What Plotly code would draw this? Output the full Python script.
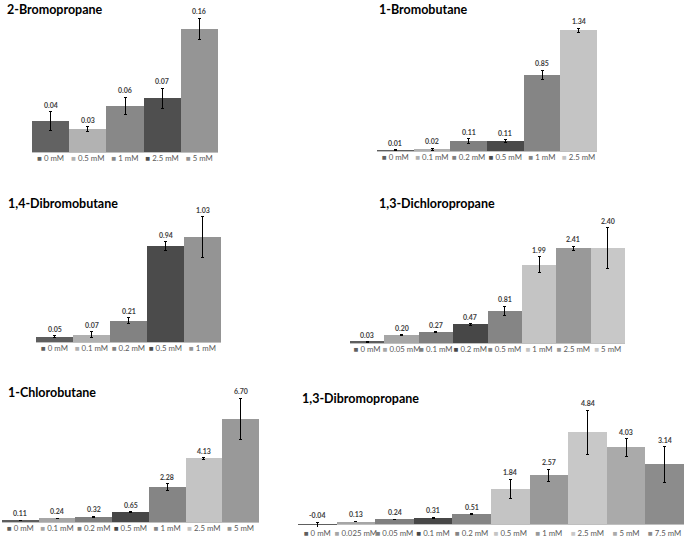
import plotly.graph_objects as go

W, H = 685, 543

# ---------------- data ----------------
title_1 = "2-Bromopropane"
cats_1 = ["0 mM", "0.5 mM", "1 mM", "2.5 mM", "5 mM"]
vals_1 = [0.04, 0.03, 0.06, 0.07, 0.16]
errs_1 = [0.0125, 0.003, 0.011, 0.013, 0.014]

title_2 = "1-Bromobutane"
cats_2 = ["0 mM", "0.1 mM", "0.2 mM", "0.5 mM", "1 mM", "2.5 mM"]
vals_2 = [0.01, 0.02, 0.11, 0.11, 0.85, 1.34]
errs_2 = [0.005, 0.01, 0.025, 0.015, 0.05, 0.025]

title_3 = "1,4-Dibromobutane"
cats_3 = ["0 mM", "0.1 mM", "0.2 mM", "0.5 mM", "1 mM"]
vals_3 = [0.05, 0.07, 0.21, 0.94, 1.03]
errs_3 = [0.01, 0.03, 0.03, 0.045, 0.2]

title_4 = "1,3-Dichloropropane"
cats_4 = ["0 mM", "0.05 mM", "0.1 mM", "0.2 mM", "0.5 mM", "1 mM", "2.5 mM", "5 mM"]
vals_4 = [0.03, 0.20, 0.27, 0.47, 0.81, 1.99, 2.41, 2.40]
errs_4 = [0.005, 0.01, 0.01, 0.02, 0.12, 0.2, 0.05, 0.52]

title_5 = "1-Chlorobutane"
cats_5 = ["0 mM", "0.1 mM", "0.2 mM", "0.5 mM", "1 mM", "2.5 mM", "5 mM"]
vals_5 = [0.11, 0.24, 0.32, 0.65, 2.28, 4.13, 6.70]
errs_5 = [0.01, 0.02, 0.04, 0.03, 0.22, 0.05, 1.33]

title_6 = "1,3-Dibromopropane"
cats_6 = ["0 mM", "0.025 mM", "0.05 mM", "0.1 mM", "0.2 mM", "0.5 mM", "1 mM", "2.5 mM", "5 mM", "7.5 mM"]
vals_6 = [-0.04, 0.13, 0.24, 0.31, 0.51, 1.84, 2.57, 4.84, 4.03, 3.14]
errs_6 = [0.13, 0.02, 0.02, 0.04, 0.02, 0.51, 0.32, 1.16, 0.47, 0.93]

# ---------------- styles ----------------
cols_1 = ["#626262", "#b2b2b2", "#888888", "#4f4f4f", "#959595"]
cols_2 = ["#5e5e5e", "#b0b0b0", "#808080", "#4a4a4a", "#858585", "#c4c4c4"]
cols_3 = ["#5e5e5e", "#b0b0b0", "#828282", "#4b4b4b", "#949494"]
cols_4 = ["#5e5e5e", "#a6a6a6", "#7f7f7f", "#474747", "#858585", "#c4c4c4", "#999999", "#c8c8c8"]
cols_5 = ["#5e5e5e", "#a6a6a6", "#7f7f7f", "#474747", "#858585", "#c4c4c4", "#999999"]
cols_6 = ["#5e5e5e", "#a6a6a6", "#7f7f7f", "#474747", "#858585", "#c4c4c4", "#999999", "#c8c8c8", "#aaaaaa", "#8c8c8c"]

# panel geometry in pixels: left, right, top, baseline, bottom, px-per-unit, title x, title y
panels = [
    (title_1, cats_1, vals_1, errs_1, cols_1, 32, 218, 10, 152, 152, 769, 5, 10),
    (title_2, cats_2, vals_2, errs_2, cols_2, 377, 597, 10, 151, 151, 90, 377, 10),
    (title_3, cats_3, vals_3, errs_3, cols_3, 36, 221, 200, 342, 342, 102, 6, 204),
    (title_4, cats_4, vals_4, errs_4, cols_4, 350, 625, 200, 343, 343, 39.4, 377, 204),
    (title_5, cats_5, vals_5, errs_5, cols_5, 2, 259, 390, 522, 522, 15.4, 6, 392),
    (title_6, cats_6, vals_6, errs_6, cols_6, 298, 684, 390, 524, 527, 19.0, 300, 398),
]

FONT = "Lato"
fig = go.Figure()
annotations = []
layout_axes = {}

for i, (title, cats, vals, errs, cols, L, R, T, base, bot, ppu, tx, ty) in enumerate(panels, start=1):
    xa = "x" if i == 1 else f"x{i}"
    ya = "y" if i == 1 else f"y{i}"
    xkey = "xaxis" if i == 1 else f"xaxis{i}"
    ykey = "yaxis" if i == 1 else f"yaxis{i}"
    ticktext = [f'<span style="color:{c}">■</span> {lab}' for c, lab in zip(cols, cats)]
    fig.add_trace(go.Bar(
        x=cats, y=vals, xaxis=xa, yaxis=ya,
        marker=dict(color=cols, line=dict(width=0)),
        error_y=dict(type="data", array=errs, visible=True, color="#000000",
                     thickness=1, width=1.5),
        showlegend=False, hoverinfo="skip",
    ))
    ymax = (base - T) / ppu
    ymin = -(bot - base) / ppu
    layout_axes[xkey] = dict(
        domain=[L / W, R / W], anchor=ya, type="category",
        range=[-0.5, len(cats) - 0.5],
        tickmode="array", tickvals=cats, ticktext=ticktext,
        tickfont=dict(family=FONT, size=7.8, color="#595959"),
        showgrid=False, zeroline=False, showline=False, ticks="",
        tickangle=0, fixedrange=True,
    )
    layout_axes[ykey] = dict(
        domain=[1 - bot / H, 1 - T / H], anchor=xa,
        range=[ymin, ymax], visible=True, showticklabels=False,
        showgrid=False, zeroline=True, zerolinecolor="#bfbfbf", zerolinewidth=1,
        showline=False, ticks="", fixedrange=True,
    )
    for c, v, e in zip(cats, vals, errs):
        annotations.append(dict(
            x=c, y=max(v + e, v), xref=xa, yref=ya, text=f"<b>{v:.2f}</b>",
            showarrow=False, yanchor="bottom", yshift=1,
            font=dict(family=FONT, size=7, color="#404040"),
        ))
    annotations.append(dict(
        x=tx / W, y=1 - ty / H, xref="paper", yref="paper", text=f"<b>{title}</b>",
        showarrow=False, xanchor="left", yanchor="middle",
        font=dict(family=FONT, size=12.5, color="#000000"),
    ))

fig.update_layout(
    width=W, height=H,
    margin=dict(l=0, r=0, t=0, b=0),
    paper_bgcolor="#ffffff", plot_bgcolor="#ffffff",
    bargap=0,
    annotations=annotations,
    **layout_axes,
)

fig.write_html("out.html", config={"displayModeBar": False},
               post_script="document.body.style.margin='0px';")
